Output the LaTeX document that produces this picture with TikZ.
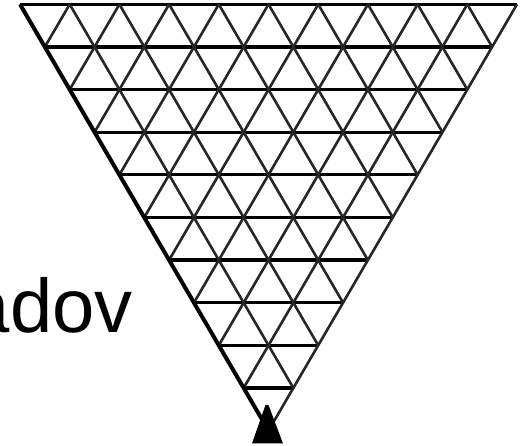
\documentclass[tikz,border=0pt]{standalone}
\usepackage{fontspec}
\setmainfont{Liberation Sans}
\begin{document}
\begin{tikzpicture}[x=1pt,y=-1pt,
  hline/.style={line width=3.3pt,black},
  dline/.style={line width=2.6pt,black!85},
  ledge/.style={line width=4pt,black},
  label/.style={font=\fontsize{76}{80}\selectfont,inner sep=0pt,anchor=base east}]
\useasboundingbox (0,0) rectangle (520,446);
\def\xl{20}\def\xr{517}\def\yt{4.3}\def\cw{49.7}\def\rh{42.63}
% horizontal lines
\foreach \j in {0,...,9}{
  \draw[hline] ({\xl+0.5*\cw*\j},{\yt+\rh*\j}) -- ({\xr-0.5*\cw*\j},{\yt+\rh*\j});
}
% down-right diagonals from top vertices
\foreach \i in {1,...,9}{
  \draw[dline] ({\xl+\cw*\i},\yt) -- ({\xr-0.5*\cw*(10-\i)},{\yt+\rh*(10-\i)});
}
% down-left diagonals from top vertices
\foreach \i in {1,...,9}{
  \draw[dline] ({\xl+\cw*\i},\yt) -- ({\xl+0.5*\cw*\i},{\yt+\rh*\i});
}
\coordinate (tl) at (\xl,\yt);
\coordinate (tr) at (\xr,\yt);
\coordinate (ap) at ({0.5*(\xl+\xr)},{\yt+10*\rh});
\draw[dline] (tr) -- (ap);
\draw[ledge] (tl) -- (ap);
% black marker at apex
\fill[black] (265.5,405) -- (268.5,405) -- (283,443.5) -- (252,443.5) -- cycle;
\node[label] (word) at (133,333) {adov};
\end{tikzpicture}
\end{document}
